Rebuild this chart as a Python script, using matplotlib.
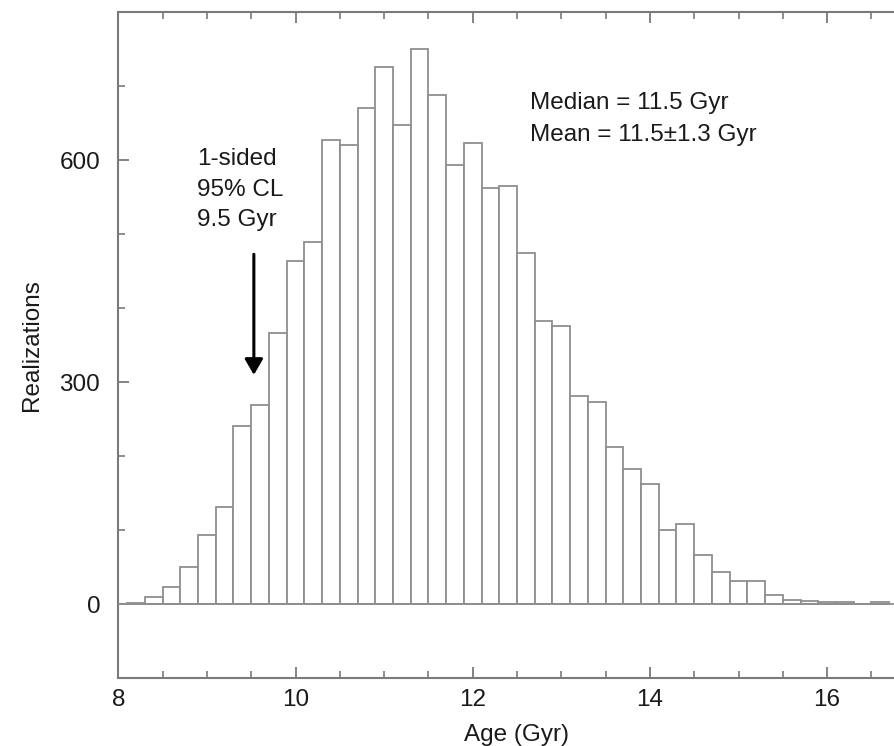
import numpy as np
import matplotlib
matplotlib.use("Agg")
import matplotlib.pyplot as plt
from matplotlib.ticker import MultipleLocator

plt.rcParams['font.family'] = ['Liberation Sans', 'DejaVu Sans']

# ---- data (histogram of ages, bin width 0.2 Gyr) ----
bin_start = 7.9
bin_width = 0.2
counts = [1, 2, 10, 24, 50, 94, 132, 241, 269, 367,
          464, 489, 628, 621, 671, 726, 648, 750, 688, 594,
          623, 563, 565, 475, 383, 376, 282, 274, 213, 183,
          162, 101, 109, 67, 44, 31, 31, 12, 6, 4,
          3, 3, 0, 3]
bin_left = np.round(bin_start + bin_width * np.arange(len(counts)), 2)

cl_age = 9.53
cl_lines = ["1-sided", "95% CL", "9.5 Gyr"]
stat_lines = ["Median = 11.5 Gyr", "Mean = 11.5\u00b11.3 Gyr"]
x_ticks = [8, 10, 12, 14, 16]
y_ticks = [0, 300, 600]

FS = 17.5
W, H = 894, 746
fig = plt.figure(figsize=(W / 100, H / 100), dpi=100)
left_px, right_px, top_px, bot_px = 118.3, 915.7, 12.3, 678.3
ax = fig.add_axes([left_px / W, 1 - bot_px / H, (right_px - left_px) / W, (bot_px - top_px) / H])

edge = '#8f8f8f'
ax.bar(bin_left, counts, width=bin_width, align='edge', facecolor='white',
       edgecolor=edge, linewidth=1.3, zorder=2)
ax.axhline(0, color=edge, lw=1.3, zorder=3)

ax.set_xlim(8, 17)
ax.set_ylim(-100, 800)

for s in ax.spines.values():
    s.set_color('#7a7a7a')
    s.set_linewidth(1.5)

ax.xaxis.set_minor_locator(MultipleLocator(0.5))
ax.yaxis.set_minor_locator(MultipleLocator(100))
ax.set_xticks(x_ticks)
ax.set_yticks(y_ticks)
ax.tick_params(axis='both', which='both', direction='in', color='#7a7a7a',
               labelcolor='#1a1a1a', labelsize=FS)
ax.tick_params(axis='x', which='both', top=True)
ax.tick_params(axis='y', which='both', right=False)
ax.tick_params(axis='both', which='major', length=8, width=1.3)
ax.tick_params(axis='both', which='minor', length=5, width=1.2)
ax.tick_params(axis='x', which='major', pad=8)
ax.tick_params(axis='y', which='major', pad=13)

ax.set_xlabel("Age (Gyr)", fontsize=FS, color='#1a1a1a', labelpad=9)
ax.set_ylabel("Realizations", fontsize=FS, color='#1a1a1a', labelpad=12)

# annotations
cl_y = [594, 552, 511]
for t, yy in zip(cl_lines, cl_y):
    ax.text(8.885, yy, t, fontsize=FS, color='#1a1a1a', ha='left', va='baseline')
stat_y = [669, 626]
for t, yy in zip(stat_lines, stat_y):
    ax.text(12.647, yy, t, fontsize=FS, color='#1a1a1a', ha='left', va='baseline')

ax.annotate('', xy=(cl_age, 310), xytext=(cl_age, 473),
            arrowprops=dict(arrowstyle='-|>,head_length=0.95,head_width=0.55',
                            mutation_scale=10, lw=2.2, color='black',
                            shrinkA=0, shrinkB=0), zorder=5)

fig.savefig("out.png", dpi=100)
